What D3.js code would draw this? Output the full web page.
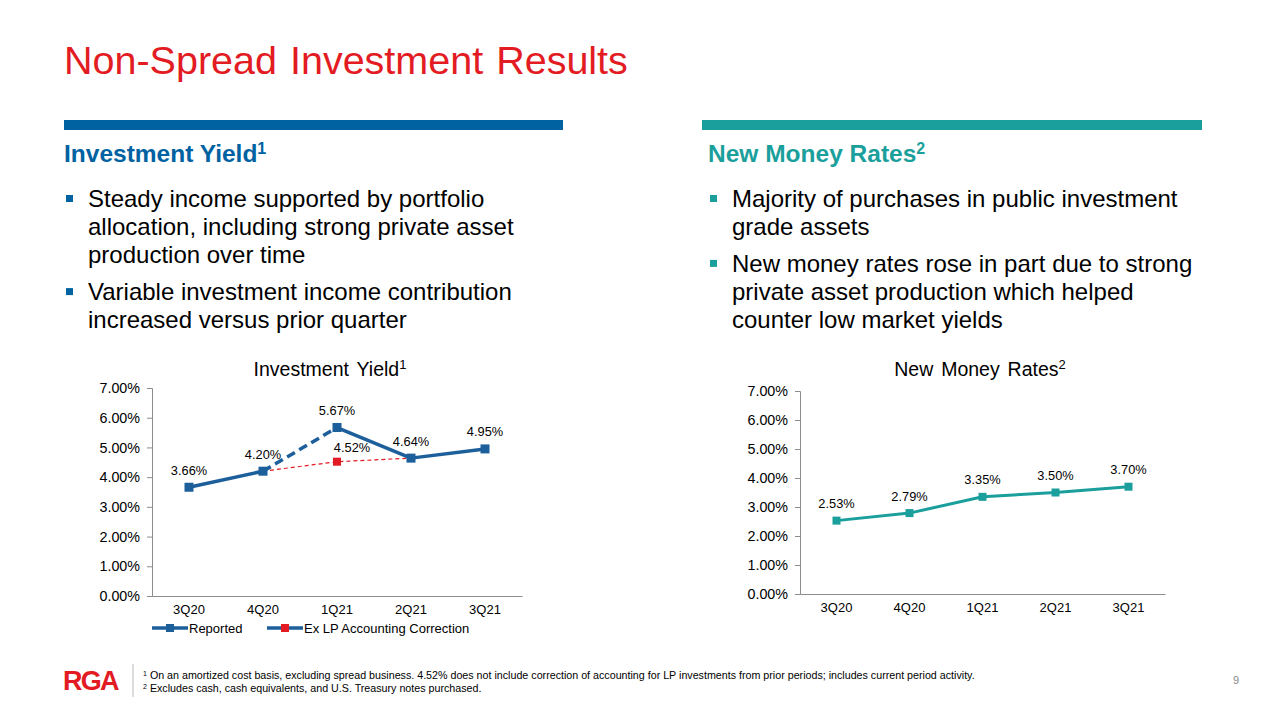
<!DOCTYPE html>
<html>
<head>
<meta charset="utf-8">
<script src="https://cdn.jsdelivr.net/npm/d3@7"></script>
<style>
  html, body { margin: 0; padding: 0; background: #fff; }
  svg { display: block; font-family: "Liberation Sans", Arial, sans-serif; }
</style>
</head>
<body>
<svg id="slide" width="1280" height="720"></svg>
<script>
// ---------- DATA ----------
const quarters = ["3Q20", "4Q20", "1Q21", "2Q21", "3Q21"];
const reportedYield = [3.66, 4.20, 5.67, 4.64, 4.95];
const exLPYield = [null, 4.20, 4.52, 4.64, null];
const newMoneyRates = [2.53, 2.79, 3.35, 3.50, 3.70];
const yTicks = [0, 1, 2, 3, 4, 5, 6, 7];
const seriesNames = ["Reported", "Ex LP Accounting Correction"];

const leftBullets = [
  ["Steady income supported by portfolio", "allocation, including strong private asset", "production over time"],
  ["Variable investment income contribution", "increased versus prior quarter"]
];
const rightBullets = [
  ["Majority of purchases in public investment", "grade assets"],
  ["New money rates rose in part due to strong", "private asset production which helped", "counter low market yields"]
];
const footnotes = [
  ["1", " On an amortized cost basis, excluding spread business. 4.52% does not include correction of accounting for LP investments from prior periods; includes current period activity."],
  ["2", " Excludes cash, cash equivalents, and U.S. Treasury notes purchased."]
];

// ---------- STYLE ----------
const RED = "#e31b23", BLUE = "#0062a1", TEAL = "#1a9f9c", LINEBLUE = "#1c5f9b";
const svg = d3.select("#slide");

// Title
svg.append("text").attr("x", 64).attr("y", 74).attr("fill", RED)
  .attr("font-size", 39.5).attr("word-spacing", 2).text("Non-Spread Investment Results");

// Section bars
svg.append("rect").attr("x", 64).attr("y", 120).attr("width", 499).attr("height", 10).attr("fill", BLUE);
svg.append("rect").attr("x", 702).attr("y", 120).attr("width", 500).attr("height", 10).attr("fill", TEAL);

function heading(x, txt, sup, color) {
  const t = svg.append("text").attr("x", x).attr("y", 162).attr("fill", color)
    .attr("font-size", 24.5).attr("font-weight", "bold");
  t.append("tspan").text(txt);
  t.append("tspan").attr("font-size", 16).attr("dy", -8).text(sup);
}
heading(64, "Investment Yield", "1", BLUE);
heading(708, "New Money Rates", "2", TEAL);

function bullets(list, bx, tx, color) {
  let y = 207;
  list.forEach((lines, i) => {
    svg.append("rect").attr("x", bx).attr("y", y - 12).attr("width", 7).attr("height", 7).attr("fill", color);
    lines.forEach((ln, j) => {
      svg.append("text").attr("x", tx).attr("y", y).attr("font-size", 24).attr("fill", "#000").text(ln);
      y += 28.2;
    });
    y += 8.5;
  });
}
bullets(leftBullets, 66, 88, BLUE);
bullets(rightBullets, 710, 732, TEAL);

// ---------- CHARTS ----------
function chart(opts) {
  const g = svg.append("g");
  const x = d3.scaleBand().domain(quarters).range([opts.x0, opts.x1]);
  const y = d3.scaleLinear().domain([0, 7]).range([opts.yb, opts.yt]);
  const cx = q => x(q) + x.bandwidth() / 2;

  // title
  const tt = g.append("text").attr("x", opts.titleX).attr("y", 376).attr("text-anchor", "middle")
    .attr("font-size", 19.5).attr("fill", "#000").attr("word-spacing", 2.5);
  tt.append("tspan").text(opts.title);
  tt.append("tspan").attr("font-size", 13).attr("dy", -7).text(opts.sup);

  // y axis
  const ya = g.append("g").attr("transform", `translate(${opts.x0},0)`)
    .call(d3.axisLeft(y).tickValues(yTicks).tickFormat(d => d.toFixed(2) + "%").tickSize(5).tickPadding(7));
  ya.selectAll("path,line").attr("stroke", "#8c8c8c");
  ya.selectAll("text").attr("font-size", 14.3).attr("fill", "#000").attr("font-family", "Liberation Sans, Arial");
  // x axis
  const xa = g.append("g").attr("transform", `translate(0,${opts.yb})`)
    .call(d3.axisBottom(x).tickSize(0).tickPadding(9));
  xa.select("path").attr("stroke", "#8c8c8c");
  xa.selectAll("text").attr("font-size", 13).attr("fill", "#000").attr("font-family", "Liberation Sans, Arial");
  return { g, x, y, cx };
}

// Left chart: Investment Yield
{
  const c = chart({ x0: 152, x1: 522, yb: 596, yt: 388, titleX: 330, title: "Investment Yield", sup: "1" });
  const pts = quarters.map((q, i) => ({ q, v: reportedYield[i] }));
  const exPts = quarters.map((q, i) => ({ q, v: exLPYield[i] })).filter(d => d.v !== null);
  const line = d3.line().x(d => c.cx(d.q)).y(d => c.y(d.v));

  // ex LP (thin dashed red)
  c.g.append("path").datum(exPts).attr("d", line).attr("fill", "none")
    .attr("stroke", RED).attr("stroke-width", 1.2).attr("stroke-dasharray", "4,3");

  // reported: segment 4Q20 -> 1Q21 is dashed
  for (let i = 0; i < pts.length - 1; i++) {
    c.g.append("path").datum([pts[i], pts[i + 1]]).attr("d", line).attr("fill", "none")
      .attr("stroke", LINEBLUE).attr("stroke-width", 3.5)
      .attr("stroke-dasharray", i === 1 ? "9,5" : null);
  }
  c.g.selectAll(".rm").data(pts).join("rect")
    .attr("x", d => c.cx(d.q) - 4.5).attr("y", d => c.y(d.v) - 4.5)
    .attr("width", 9).attr("height", 9).attr("fill", LINEBLUE);
  c.g.selectAll(".em").data(exPts.filter(d => d.q === "1Q21")).join("rect")
    .attr("x", d => c.cx(d.q) - 4).attr("y", d => c.y(d.v) - 4)
    .attr("width", 8).attr("height", 8).attr("fill", RED);

  // labels
  c.g.selectAll(".rl").data(pts).join("text")
    .attr("x", d => c.cx(d.q)).attr("y", d => c.y(d.v) - 12.5).attr("text-anchor", "middle")
    .attr("font-size", 12.8).attr("fill", "#000").text(d => d.v.toFixed(2) + "%");
  c.g.selectAll(".el").data(exPts.filter(d => d.q === "1Q21")).join("text")
    .attr("x", d => c.cx(d.q) + 15).attr("y", d => c.y(d.v) - 10).attr("text-anchor", "middle")
    .attr("font-size", 12.8).attr("fill", "#000").text(d => d.v.toFixed(2) + "%");

  // legend
  const lg = c.g.append("g").attr("font-size", 13);
  const items = [{ name: seriesNames[0], x: 152, mk: LINEBLUE }, { name: seriesNames[1], x: 267, mk: RED }];
  items.forEach(it => {
    lg.append("line").attr("x1", it.x).attr("x2", it.x + 36).attr("y1", 628).attr("y2", 628)
      .attr("stroke", LINEBLUE).attr("stroke-width", 3.5);
    lg.append("rect").attr("x", it.x + 14).attr("y", 624).attr("width", 8).attr("height", 8).attr("fill", it.mk);
    lg.append("text").attr("x", it.x + 37).attr("y", 633).attr("fill", "#000").text(it.name);
  });
}

// Right chart: New Money Rates
{
  const c = chart({ x0: 800, x1: 1165, yb: 594, yt: 391, titleX: 980, title: "New Money Rates", sup: "2" });
  const pts = quarters.map((q, i) => ({ q, v: newMoneyRates[i] }));
  const line = d3.line().x(d => c.cx(d.q)).y(d => c.y(d.v));
  c.g.append("path").datum(pts).attr("d", line).attr("fill", "none")
    .attr("stroke", TEAL).attr("stroke-width", 3);
  c.g.selectAll(".m").data(pts).join("rect")
    .attr("x", d => c.cx(d.q) - 4).attr("y", d => c.y(d.v) - 4)
    .attr("width", 8).attr("height", 8).attr("fill", TEAL);
  c.g.selectAll(".l").data(pts).join("text")
    .attr("x", d => c.cx(d.q)).attr("y", d => c.y(d.v) - 12.5).attr("text-anchor", "middle")
    .attr("font-size", 12.8).attr("fill", "#000").text(d => d.v.toFixed(2) + "%");
}

// ---------- FOOTER ----------
svg.append("text").attr("x", 63).attr("y", 690).attr("fill", RED).attr("font-size", 27)
  .attr("font-weight", "bold").attr("letter-spacing", -1.8).text("RGA");
svg.append("line").attr("x1", 133).attr("x2", 133).attr("y1", 664).attr("y2", 697)
  .attr("stroke", "#bbb").attr("stroke-width", 1);
footnotes.forEach((f, i) => {
  const t = svg.append("text").attr("x", 143).attr("y", 679 + i * 13)
    .attr("font-family", "'Liberation Sans Narrow', 'Arial Narrow', sans-serif").attr("font-size", 10.7).attr("fill", "#000");
  t.append("tspan").attr("font-size", 7).attr("dy", -3).text(f[0]);
  t.append("tspan").attr("dy", 3).text(f[1]);
});
svg.append("text").attr("x", 1233).attr("y", 684).attr("font-size", 11).attr("fill", "#8a8a8a").text("9");
</script>
</body>
</html>
